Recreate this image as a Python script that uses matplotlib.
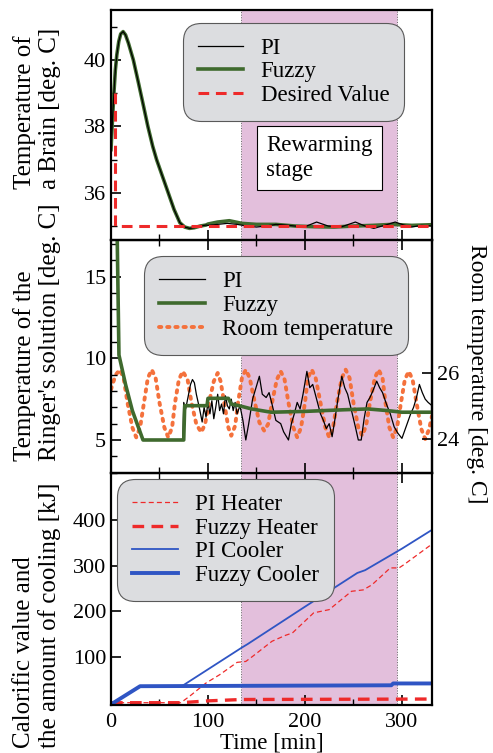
import numpy as np
import matplotlib
matplotlib.use("Agg")
import matplotlib.pyplot as plt
from matplotlib import font_manager
from matplotlib.ticker import MultipleLocator

available = {f.name for f in font_manager.fontManager.ttflist}
serif = [n for n in ['Liberation Serif', 'Times New Roman', 'Nimbus Roman', 'STIXGeneral',
                     'DejaVu Serif'] if n in available]
plt.rcParams['font.family'] = serif + ['DejaVu Sans']

# --- brain temperature [deg C] ---
t_brain = [0, 1.5, 3, 4.5, 6, 8, 10, 12.5, 15, 18, 20.5, 23, 28, 33, 38, 43, 47, 53, 59, 65,
           71, 76, 81, 86, 92, 98]
brain_head = [37.3, 38.2, 39.0, 39.7, 40.15, 40.55, 40.78, 40.85, 40.75, 40.5, 40.25, 40.0,
              39.35, 38.68, 38.0, 37.4, 37.0, 36.5, 36.0, 35.5, 35.1, 34.97, 34.93, 34.95,
              35.0, 35.03]
t_pi_tail = [100, 110, 120, 130, 140, 150, 160, 170, 180, 190, 200, 212, 224, 237, 252, 262,
             271, 282, 293, 302, 310, 320, 331]
pi_tail = [35.02, 35.05, 35.08, 35.05, 35.0, 34.97, 35.0, 35.05, 35.03, 35.0, 34.98, 35.12,
           35.0, 34.97, 35.12, 35.0, 34.93, 35.02, 35.12, 35.03, 34.97, 35.02, 35.0]
t_fz_tail = [100, 110, 122, 135, 150, 170, 190, 210, 230, 250, 270, 290, 310, 331]
fz_tail = [35.06, 35.12, 35.16, 35.08, 35.05, 35.05, 35.0, 34.98, 34.97, 35.0, 35.02, 35.05,
           35.02, 35.04]
t_desired = [4, 4, 331]
desired = [39.0, 35.0, 35.0]

# --- Ringer's solution temperature [deg C] ---
t_ring_head = [0, 6.5, 8.2, 15, 22, 33, 73]
ring_head = [40.0, 17.0, 10.2, 8.4, 6.8, 5.0, 5.0]
t_fz_ring = [75, 76, 99, 100, 121, 124, 132, 145, 165, 200, 240, 265, 285, 300, 331]
fz_ring = [5.0, 7.1, 7.1, 7.55, 7.55, 7.2, 7.1, 6.9, 6.7, 6.75, 6.85, 6.9, 6.8, 6.7, 6.7]
t_pi_ring = [74, 75, 77, 79, 82, 84, 86, 88, 91, 94, 96, 98, 100, 102, 104, 106, 108, 110, 112,
             114, 116, 118, 120, 122, 124, 126, 128, 130, 133, 136, 139, 142, 146, 150, 153,
             156, 160, 163, 166, 170, 175, 178, 183, 186, 189, 192, 195, 198, 202, 205, 208,
             212, 216, 219, 222, 225, 228, 231, 234, 238, 241, 244, 248, 252, 255, 258, 261,
             264, 267, 270, 274, 277, 280, 284, 288, 292, 296, 300, 303, 306, 309, 312, 315,
             318, 321, 324, 327, 331]
pi_ring = [5.0, 7.3, 6.9, 7.5, 8.4, 8.7, 8.5, 7.8, 7.0, 6.1, 7.0, 6.4, 7.3, 6.6, 7.4, 6.3, 7.0,
           7.8, 6.8, 7.2, 6.6, 7.7, 7.1, 6.9, 7.5, 6.8, 7.3, 6.6, 7.1, 6.2, 5.0, 6.0, 7.5, 8.3,
           8.9, 7.8, 7.6, 7.9, 7.2, 6.2, 6.0, 5.5, 5.0, 6.0, 6.6, 7.3, 6.9, 7.8, 9.2, 8.2, 8.4,
           7.5, 6.6, 6.2, 5.7, 6.0, 5.2, 6.3, 7.5, 8.9, 8.2, 7.8, 6.8, 5.8, 5.0, 5.0, 6.3, 7.3,
           7.6, 8.0, 8.6, 8.2, 7.9, 7.2, 6.6, 5.8, 5.4, 5.1, 5.6, 6.1, 6.6, 7.0, 7.6, 8.4, 7.9,
           7.5, 7.3, 7.1]

# --- room temperature [deg C] (right axis) ---
t_room = [0, 2, 5, 9, 13, 17, 22, 26, 30, 34, 38, 42, 46, 50, 55, 59, 63, 66, 70, 74, 79, 83,
          88, 93, 97, 101, 106, 110, 113, 117, 121, 124, 128, 131, 135, 139, 143, 148, 153,
          158, 162, 166, 171, 175, 179, 183, 188, 192, 196, 200, 203, 207, 211, 216, 221, 225,
          229, 233, 238, 242, 246, 250, 255, 259, 263, 267, 272, 276, 280, 283, 287, 291, 295,
          299, 303, 307, 311, 315, 320, 324, 328, 331]
room = [25.5, 25.7, 25.95, 26.1, 25.85, 25.1, 24.35, 24.05, 24.35, 25.1, 25.85, 26.1, 25.85,
        25.1, 24.35, 24.05, 24.35, 25.1, 25.8, 26.05, 25.8, 25.1, 24.45, 24.2, 24.45, 25.1,
        25.75, 26.0, 25.75, 25.05, 24.35, 24.1, 24.4, 25.1, 25.85, 26.1, 25.85, 25.15, 24.5,
        24.25, 24.45, 25.1, 25.8, 26.05, 25.8, 25.1, 24.35, 24.05, 24.35, 25.1, 25.85, 26.1,
        25.85, 25.1, 24.35, 24.05, 24.35, 25.1, 25.85, 26.1, 25.85, 25.1, 24.35, 24.1, 24.4,
        25.1, 25.85, 26.1, 25.85, 25.1, 24.35, 24.05, 24.35, 25.1, 25.8, 26.05, 25.8, 25.1,
        24.3, 24.0, 24.3, 24.7]

# --- heat / cooling amount [kJ] ---
t_pi_cool = [2, 30, 73, 134, 141, 199, 254, 262, 300, 331]
pi_cool = [0, 37, 37, 120, 129, 209, 284, 290, 337, 378]
t_fz_cool = [2, 30, 289, 291, 331]
fz_cool = [0, 37, 39, 43, 43]
t_pi_heat = [0, 72, 81, 98, 112, 130, 139, 146, 166, 180, 187, 209, 225, 248, 260, 269, 288,
             297, 302, 331]
pi_heat = [1, 1, 15, 44, 62, 89, 91, 102, 135, 148, 153, 197, 204, 244, 247, 258, 295, 295,
           302, 347]
t_fz_heat = [0, 72, 100, 135, 331]
fz_heat = [1, 1, 5, 8, 9]

rewarm = (134, 295)

c_pi = 'black'
c_fz = '#3f6a2e'
c_red = '#ee2a2a'
c_room = '#f4713c'
c_blue = '#2f55c4'
c_shade = '#e3bfdc'
room_dash = (0.6, 1.5)

fig = plt.figure(figsize=(4.93, 7.53), dpi=100)
L, W = 111 / 493, 321 / 493
ax1 = fig.add_axes([L, 1 - 240 / 753, W, 230 / 753])
ax2 = fig.add_axes([L, 1 - 473 / 753, W, 233 / 753])
ax3 = fig.add_axes([L, 1 - 705 / 753, W, 232 / 753])
ax2r = ax2.twinx()

for ax in (ax1, ax2r, ax3):
    ax.axvspan(*rewarm, facecolor=c_shade, edgecolor='0.4', lw=0.7, ls=':', zorder=0)

for ax in (ax1, ax2, ax3):
    ax.set_xlim(0, 331)
    ax.xaxis.set_major_locator(MultipleLocator(100))
    ax.xaxis.set_minor_locator(MultipleLocator(50))
    ax.tick_params(which='both', direction='in', top=(ax is not ax1), labelsize=16)
    ax.tick_params(which='major', length=7, width=1.2)
    ax.tick_params(which='minor', length=4, width=1.0)
    for s in ax.spines.values():
        s.set_linewidth(1.6)

leg_kw = dict(fontsize=16.5, frameon=True, fancybox=True, facecolor='#dcdde0',
              edgecolor='0.35', framealpha=1, borderaxespad=0, handlelength=2.0,
              handletextpad=0.75, borderpad=0.35, labelspacing=0.12)

def style_legend(lg):
    lg.get_frame().set_boxstyle('round,pad=0.3,rounding_size=0.8')
    lg.get_frame().set_linewidth(0.8)

# top panel
ax1.plot(t_brain + t_fz_tail, brain_head + fz_tail, color=c_fz, lw=2.6, label='Fuzzy')
ax1.plot(t_brain + t_pi_tail, brain_head + pi_tail, color=c_pi, lw=0.9, label='PI')
ax1.plot(t_desired, desired, color=c_red, lw=2.2, dashes=(3.5, 2.2), label='Desired Value')
ax1.set_ylim(34.58, 41.5)
ax1.yaxis.set_major_locator(MultipleLocator(2))
ax1.yaxis.set_minor_locator(MultipleLocator(1))
ax1.tick_params(labelbottom=False)
h, l = ax1.get_legend_handles_labels()
lg = ax1.legend([h[1], h[0], h[2]], [l[1], l[0], l[2]], loc='upper left',
                bbox_to_anchor=(0.245, 0.915), **leg_kw)
style_legend(lg)
ax1.text(160, 37.05, 'Rewarming\nstage', fontsize=16.5, ha='left', va='center',
         bbox=dict(boxstyle='square,pad=0.4', fc='white', ec='black', lw=0.8))

# middle panel
ax2r.plot(t_room, room, color=c_room, lw=2.8, dashes=room_dash, dash_capstyle='round',
          zorder=1)
ax2r.set_ylim(22.97, 30.03)
ax2r.set_yticks([24, 26])
ax2r.tick_params(direction='in', length=7, width=1.2, labelsize=16)
ax2r.spines['right'].set_linewidth(1.6)
ax2.set_zorder(ax2r.get_zorder() + 1)
ax2.patch.set_visible(False)

ax2.plot(t_ring_head + t_pi_ring, ring_head + pi_ring, color=c_pi, lw=0.9, label='PI')
ax2.plot(t_ring_head + t_fz_ring, ring_head + fz_ring, color=c_fz, lw=2.6, label='Fuzzy')
ax2.set_ylim(2.98, 17.24)
ax2.yaxis.set_major_locator(MultipleLocator(5))
ax2.yaxis.set_minor_locator(MultipleLocator(1))
ax2.tick_params(labelbottom=False)
h, l = ax2.get_legend_handles_labels()
room_h = plt.Line2D([], [], color=c_room, lw=2.8, dashes=room_dash, dash_capstyle='round')
lg = ax2.legend(h + [room_h], l + ['Room temperature'], loc='upper left',
                bbox_to_anchor=(0.125, 0.9), **leg_kw)
style_legend(lg)

# bottom panel
ax3.plot(t_pi_heat, pi_heat, color=c_red, lw=0.9, dashes=(4, 2.5), label='PI Heater')
ax3.plot(t_fz_heat, fz_heat, color=c_red, lw=2.4, dashes=(3.5, 2.2), label='Fuzzy Heater')
ax3.plot(t_pi_cool, pi_cool, color=c_blue, lw=1.3, label='PI Cooler')
ax3.plot(t_fz_cool, fz_cool, color=c_blue, lw=2.8, label='Fuzzy Cooler')
ax3.set_ylim(-4, 502)
ax3.set_yticks([100, 200, 300, 400])
ax3.tick_params(axis='x', pad=6)
ax3.set_xlabel('Time [min]', fontsize=16.5, labelpad=0)
lg = ax3.legend(loc='upper left', bbox_to_anchor=(0.04, 0.945), **leg_kw)
style_legend(lg)

# axis labels
lab_kw = dict(fontsize=18, rotation=90, ha='center', va='center', multialignment='left')
fig.text(37 / 493, 1 - 108 / 753, 'Temperature of\na Brain [deg. C]', **lab_kw)
fig.text(37 / 493, 1 - 332 / 753, "Temperature of the\nRinger's solution [deg. C]", **lab_kw)
fig.text(37 / 493, 1 - 615 / 753, 'Calorific value and\nthe amount of cooling [kJ]', **lab_kw)
fig.text(477 / 493, 1 - 374 / 753, 'Room temperature [deg. C]', fontsize=17, rotation=270,
         ha='center', va='center')

fig.savefig('out.png', dpi=100)
